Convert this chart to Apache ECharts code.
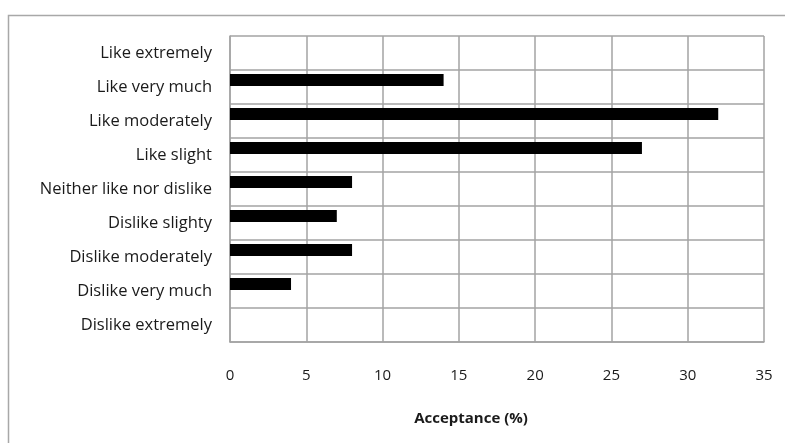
<!DOCTYPE html>
<html>
<head>
<meta charset="utf-8">
<script src="https://cdn.jsdelivr.net/npm/echarts@6/dist/echarts.min.js"></script>
<style>
  html, body { margin: 0; padding: 0; background: #fff; }
  #chart { width: 785px; height: 443px; }
</style>
</head>
<body>
<div id="chart"></div>
<script>
// Hedonic scale categories, listed from top to bottom
const categories = [
  'Like extremely',
  'Like very much',
  'Like moderately',
  'Like slight',
  'Neither like nor dislike',
  'Dislike slighty',
  'Dislike moderately',
  'Dislike very much',
  'Dislike extremely'
];
// Share of panelists (%) choosing each category
const acceptance = [0, 14, 32, 27, 8, 7, 8, 4, 0];
// Empty companion series: keeps the bars in the upper part of each band
const companion = categories.map(() => null);
const xTicks = { min: 0, max: 35, interval: 5 };
const xTitle = 'Acceptance (%)';

const FONT = '"Open Sans", sans-serif';
const GRID = '#a3a3a3';

const chart = echarts.init(document.getElementById('chart'), null, { renderer: 'canvas' });
chart.setOption({
  animation: false,
  backgroundColor: '#fff',
  textStyle: { fontFamily: FONT },
  grid: { left: 230, right: 21, top: 36, bottom: 101, containLabel: false },
  title: {
    text: xTitle,
    left: 466,
    top: 406,
    textAlign: 'center',
    textStyle: { fontFamily: FONT, fontSize: 15, fontWeight: 'bold', color: '#1a1a1a' }
  },
  graphic: [{
    type: 'rect',
    shape: { x: 8.5, y: 15.5, width: 900, height: 600 },
    style: { fill: 'none', stroke: '#a8a8a8', lineWidth: 1.5 },
    silent: true
  }],
  xAxis: {
    type: 'value',
    min: xTicks.min,
    max: xTicks.max,
    interval: xTicks.interval,
    axisLine: { show: true, lineStyle: { color: GRID, width: 1.5 } },
    axisTick: { show: false },
    axisLabel: { margin: 26, fontSize: 15, color: '#1a1a1a', fontFamily: FONT },
    splitLine: { show: true, lineStyle: { color: GRID, width: 1.5 } }
  },
  yAxis: {
    type: 'category',
    data: categories,
    inverse: true,
    axisLine: { show: true, lineStyle: { color: GRID, width: 1.5 } },
    axisTick: { show: false },
    axisLabel: { margin: 18, fontSize: 16.5, color: '#1a1a1a', fontFamily: FONT },
    splitLine: { show: true, lineStyle: { color: GRID, width: 1.5 } }
  },
  series: [
    {
      type: 'bar',
      data: acceptance,
      barWidth: 12,
      barGap: '17%',
      itemStyle: { color: '#000' }
    },
    {
      type: 'bar',
      data: companion,
      barWidth: 12,
      itemStyle: { color: 'transparent' }
    }
  ]
});
</script>
</body>
</html>
